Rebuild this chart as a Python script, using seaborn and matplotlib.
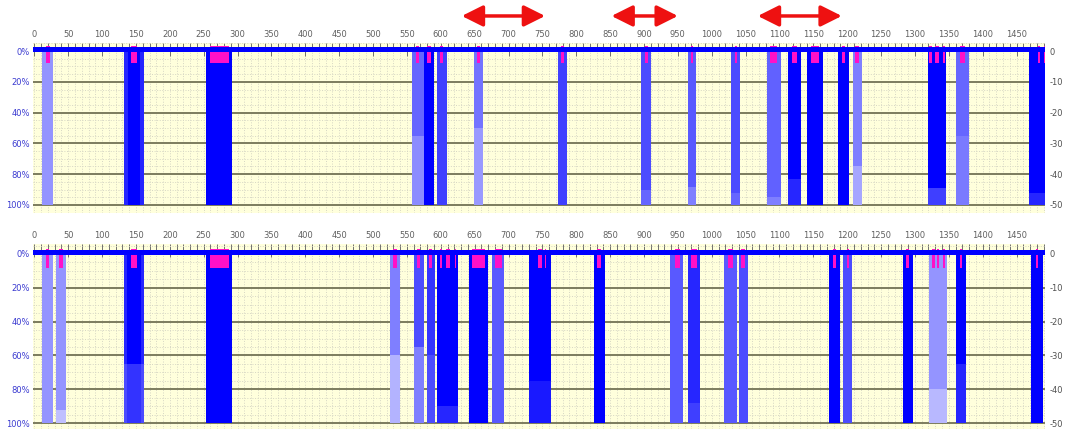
import matplotlib
matplotlib.use("Agg")
import matplotlib.pyplot as plt
import seaborn as sns
from matplotlib.ticker import MultipleLocator

# alignment blocks, upper track: start, end, shade (0 white .. 1 blue), fade depth (%), shade below fade
top_start = [11, 133, 138, 156, 254, 558, 575, 595, 649, 773, 896, 965, 1029, 1081, 1113, 1141, 1186, 1208, 1319, 1361, 1468]
top_end = [28, 138, 156, 162, 292, 575, 590, 609, 663, 787, 911, 977, 1042, 1102, 1132, 1165, 1202, 1222, 1346, 1380, 1492]
top_shade = [0.42, 0.85, 1.0, 0.85, 1.0, 0.6, 1.0, 0.75, 0.55, 0.75, 0.7, 0.65, 0.7, 0.62, 1.0, 1.0, 1.0, 0.5, 1.0, 0.6, 1.0]
top_fade = [100, 100, 100, 100, 100, 55, 100, 100, 50, 100, 90, 88, 92, 95, 83, 100, 100, 75, 89, 55, 92]
top_fade_shade = [0.42, 0.85, 1.0, 0.85, 1.0, 0.45, 1.0, 0.75, 0.4, 0.75, 0.6, 0.5, 0.6, 0.5, 0.85, 1.0, 1.0, 0.35, 0.75, 0.52, 0.85]
top_pink_start = [17, 143, 259, 563, 580, 599, 653, 777, 901, 969, 1034, 1086, 1119, 1147, 1192, 1212, 1321, 1330, 1341, 1367, 1481, 1490]
top_pink_end = [23, 151, 287, 568, 585, 604, 658, 782, 906, 972, 1038, 1097, 1126, 1159, 1197, 1217, 1325, 1336, 1345, 1374, 1484, 1492]

# lower track
bot_start = [11, 32, 133, 137, 157, 254, 525, 560, 579, 595, 641, 676, 730, 826, 939, 965, 1018, 1040, 1173, 1194, 1282, 1321, 1360, 1472]
bot_end = [28, 47, 137, 157, 162, 292, 540, 575, 591, 626, 670, 693, 762, 842, 958, 983, 1038, 1053, 1189, 1207, 1297, 1348, 1376, 1489]
bot_shade = [0.42, 0.42, 0.85, 1.0, 0.85, 1.0, 0.5, 0.7, 0.8, 1.0, 1.0, 0.65, 1.0, 1.0, 0.65, 0.85, 0.65, 0.7, 1.0, 0.7, 1.0, 0.42, 1.0, 1.0]
bot_fade = [100, 92, 65, 65, 65, 100, 60, 55, 60, 90, 100, 100, 75, 100, 100, 88, 100, 100, 100, 100, 100, 80, 65, 100]
bot_fade_shade = [0.42, 0.25, 0.7, 0.8, 0.7, 1.0, 0.3, 0.5, 0.7, 0.85, 1.0, 0.65, 0.9, 1.0, 0.65, 0.75, 0.65, 0.7, 1.0, 0.7, 1.0, 0.28, 0.85, 1.0]
bot_pink_start = [17, 37, 143, 259, 529, 565, 583, 599, 607, 621, 646, 680, 743, 754, 831, 946, 970, 1024, 1043, 1179, 1199, 1287, 1325, 1332, 1341, 1366, 1478]
bot_pink_end = [22, 42, 151, 287, 535, 570, 587, 602, 614, 623, 665, 690, 749, 756, 836, 953, 978, 1032, 1049, 1184, 1202, 1291, 1329, 1336, 1345, 1370, 1481]

pct_ticks = [0, 20, 40, 60, 80, 100]
pct_labels = ["0%", "20%", "40%", "60%", "80%", "100%"]
right_labels = ["0", "-10", "-20", "-30", "-40", "-50"]
pos_ticks = list(range(0, 1451, 50))
arrow_start = [631, 852, 1068]
arrow_end = [754, 950, 1192]

sns.set_theme(style="white")
plt.rcParams["font.family"] = ["DejaVu Sans"]

blues = sns.blend_palette(["#FFFFFF", "#0000FF"], as_cmap=True)

fig = plt.figure(figsize=(10.65, 4.3), dpi=100)
ax_top = fig.add_axes([33 / 1065, 1 - 213 / 430, 1012 / 1065, 170 / 430])
ax_bot = fig.add_axes([33 / 1065, 1 - 429 / 430, 1012 / 1065, 185 / 430])


def draw_track(ax, starts, ends, shades, fades, fade_shades, pstart, pend, ylim):
    ax.set_facecolor("#FFFFDC")
    ax.set_xlim(-2, 1492)
    ax.set_ylim(*ylim)
    ax.xaxis.set_minor_locator(MultipleLocator(10))
    ax.yaxis.set_minor_locator(MultipleLocator(5))
    ax.grid(which="both", axis="x", color="#D6D6C4", linestyle=":", linewidth=0.7)
    ax.grid(which="minor", axis="y", color="#D6D6C4", linestyle=":", linewidth=0.7)
    ax.set_axisbelow(True)
    for y in pct_ticks[1:]:
        ax.axhline(y, color="#7C7C5E", lw=1.4, zorder=1)

    for s, e, sh, f, fs in zip(starts, ends, shades, fades, fade_shades):
        ax.bar(s, f, width=e - s, bottom=0, align="edge", color=blues(sh), lw=0, zorder=2)
        if f < 100:
            ax.bar(s, 100 - f, width=e - s, bottom=f, align="edge", color=blues(fs), lw=0, zorder=2)
    for s, e in zip(pstart, pend):
        ax.bar(s, 11.0, width=e - s, bottom=-3.0, align="edge", color="#FF10C8", lw=0, zorder=3)
    ax.axhspan(-2.5, 0.8, color="#0000FF", lw=0, zorder=4)

    ax.set_xticks(pos_ticks)
    ax.set_xticklabels([str(v) for v in pos_ticks])
    ax.tick_params(axis="x", which="both", top=True, bottom=False, labeltop=True,
                   labelbottom=False, direction="in", color="#707070", width=0.7)
    ax.tick_params(axis="x", which="major", length=9, labelsize=6, labelcolor="#606060", pad=3)
    ax.tick_params(axis="x", which="minor", length=4)
    ax.set_yticks(pct_ticks)
    ax.set_yticklabels(pct_labels)
    ax.tick_params(axis="y", which="both", left=False, right=False, length=0,
                   labelsize=6, labelcolor="#3A3AD0", pad=2)
    for sp in ax.spines.values():
        sp.set_visible(False)

    ax2 = ax.twinx()
    ax2.set_ylim(*ylim)
    ax2.set_yticks(pct_ticks)
    ax2.set_yticklabels(right_labels)
    ax2.tick_params(axis="y", length=0, labelsize=6, labelcolor="#505050", pad=3)
    ax2.grid(False)
    for sp in ax2.spines.values():
        sp.set_visible(False)


draw_track(ax_top, top_start, top_end, top_shade, top_fade, top_fade_shade,
           top_pink_start, top_pink_end, (105.2, -5.2))
draw_track(ax_bot, bot_start, bot_end, bot_shade, bot_fade, bot_fade_shade,
           bot_pink_start, bot_pink_end, (103.5, -5.9))

# red range markers above the upper track
for s, e in zip(arrow_start, arrow_end):
    ax_top.annotate("", xy=(e, 1.159), xytext=(s, 1.159), xycoords=ax_top.get_xaxis_transform(),
                    arrowprops=dict(arrowstyle="<|-|>,head_length=0.8,head_width=0.4",
                                    color="#EE1111", lw=2.5, mutation_scale=16,
                                    shrinkA=0, shrinkB=0),
                    annotation_clip=False)

fig.savefig("out.png", dpi=100)
